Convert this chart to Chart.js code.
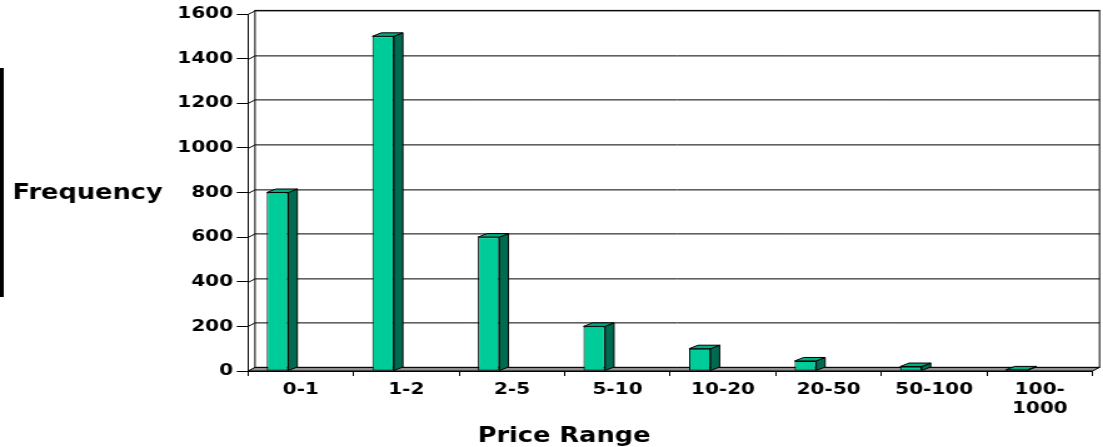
<!DOCTYPE html>
<html>
<head>
<meta charset="utf-8">
<script src="https://cdn.jsdelivr.net/npm/chart.js@4"></script>
<style>
  html, body { margin: 0; padding: 0; background: #fff; overflow: hidden; }
  /* the chart is laid out narrow and stretched sideways, like the wide Excel export */
  .chart-container {
    position: relative;
    width: 882px;
    height: 447px;
    transform: scaleX(1.2506);
    transform-origin: 0 0;
  }
</style>
</head>
<body>
<div class="chart-container">
  <canvas id="histogram"></canvas>
</div>
<script>
const priceRanges = ['0-1', '1-2', '2-5', '5-10', '10-20', '20-50', '50-100', ['100-', '1000']];
const frequency = [800, 1500, 600, 200, 100, 45, 20, 5];
const yMin = 0;
const yMax = 1600;
const yStep = 200;

const FONT = "'DejaVu Sans', Verdana, sans-serif";
const DEPTH_X = 5.6;   // back wall offset
const DEPTH_Y = 3.6;
const BAR_DX = 7.2;    // bar depth
const BAR_DY = 3.5;
const BAR_SHIFT = -18.6;

const frontColor = '#00CC99';
const sideColor = '#006B50';
const topColor = '#00AD82';

// back wall, gridlines, left wall and floor of the 3D box
const wallPlugin = {
  id: 'walls',
  beforeDatasetsDraw(chart) {
    const { ctx, chartArea: a, scales } = chart;
    const y = scales.y;
    ctx.save();
    ctx.lineWidth = 1;
    ctx.strokeStyle = '#000';

    // gridlines on the back wall plus the diagonal from each tick
    for (let v = yMin; v <= yMax; v += yStep) {
      const py = Math.round(y.getPixelForValue(v)) + 0.5;
      ctx.beginPath();
      ctx.moveTo(a.left, py);
      ctx.lineTo(a.left + DEPTH_X, py - DEPTH_Y);
      if (v > yMin) ctx.lineTo(a.right + DEPTH_X, py - DEPTH_Y);
      ctx.stroke();
    }

    // back wall outline
    ctx.strokeRect(a.left + DEPTH_X, a.top - DEPTH_Y, a.right - a.left, a.bottom - a.top);

    // floor
    ctx.beginPath();
    ctx.moveTo(a.left, a.bottom);
    ctx.lineTo(a.right, a.bottom);
    ctx.lineTo(a.right + DEPTH_X, a.bottom - DEPTH_Y);
    ctx.lineTo(a.left + DEPTH_X, a.bottom - DEPTH_Y);
    ctx.closePath();
    ctx.fillStyle = '#8f8f8f';
    ctx.fill();
    ctx.stroke();
    ctx.restore();
  }
};

// shift the front faces and add the side and top faces of each column
const columnPlugin = {
  id: 'columns3d',
  beforeDatasetDraw(chart) {
    chart.ctx.save();
    chart.ctx.translate(BAR_SHIFT, 0);
  },
  afterDatasetDraw(chart, args) {
    const ctx = chart.ctx;
    ctx.lineWidth = 1;
    ctx.strokeStyle = '#000';
    args.meta.data.forEach(bar => {
      const p = bar.getProps(['x', 'y', 'base', 'width'], true);
      const l = p.x - p.width / 2;
      const r = p.x + p.width / 2;
      const t = p.y;
      const b = p.base;

      ctx.beginPath();
      ctx.moveTo(r, t);
      ctx.lineTo(r + BAR_DX, t - BAR_DY);
      ctx.lineTo(r + BAR_DX, b - BAR_DY);
      ctx.lineTo(r, b);
      ctx.closePath();
      ctx.fillStyle = sideColor;
      ctx.fill();
      ctx.stroke();

      ctx.beginPath();
      ctx.moveTo(l, t);
      ctx.lineTo(l + BAR_DX, t - BAR_DY);
      ctx.lineTo(r + BAR_DX, t - BAR_DY);
      ctx.lineTo(r, t);
      ctx.closePath();
      ctx.fillStyle = topColor;
      ctx.fill();
      ctx.stroke();
    });
    ctx.restore();
  }
};

// axis titles and the dark rule at the left edge
const labelsPlugin = {
  id: 'labels',
  afterDraw(chart) {
    const ctx = chart.ctx;
    ctx.save();
    ctx.fillStyle = '#000';
    ctx.fillRect(0, 68, 3, 229);
    ctx.font = `bold 20.5px ${FONT}`;
    ctx.textAlign = 'center';
    ctx.textBaseline = 'alphabetic';
    ctx.fillText('Frequency', 70, 199);
    ctx.fillText('Price Range', 451, 442);
    ctx.restore();
  }
};

const createHistogram = (ctx) => {
  return new Chart(ctx, {
    type: 'bar',
    data: {
      labels: priceRanges,
      datasets: [{
        label: 'Frequency',
        data: frequency,
        backgroundColor: frontColor,
        borderColor: '#000',
        borderWidth: 1,
        borderSkipped: false,
        categoryPercentage: 1,
        barPercentage: 0.204
      }]
    },
    options: {
      responsive: true,
      maintainAspectRatio: false,
      animation: false,
      layout: { padding: { top: 14, right: 8.4, left: 0, bottom: 0 } },
      plugins: {
        legend: { display: false },
        tooltip: { enabled: false },
        title: { display: false }
      },
      scales: {
        x: {
          grid: { drawOnChartArea: false, drawTicks: true, tickLength: 5, color: '#000' },
          border: { display: true, color: '#000', width: 1 },
          ticks: {
            color: '#000',
            font: { family: FONT, size: 16, weight: 'bold', lineHeight: 1.2 },
            padding: 4,
            autoSkip: false,
            maxRotation: 0
          },
          afterFit: (scale) => { scale.height = 76; }
        },
        y: {
          min: yMin,
          max: yMax,
          grid: { drawOnChartArea: false, drawTicks: true, tickLength: 9, color: '#000' },
          border: { display: true, color: '#000', width: 1 },
          ticks: {
            stepSize: yStep,
            color: '#000',
            padding: 3,
            font: { family: FONT, size: 16, weight: 'bold' },
            callback: (value) => String(value)
          },
          afterFit: (scale) => { scale.width = 198.3; }
        }
      }
    },
    plugins: [wallPlugin, columnPlugin, labelsPlugin]
  });
};

createHistogram(document.getElementById('histogram').getContext('2d'));
</script>
</body>
</html>
